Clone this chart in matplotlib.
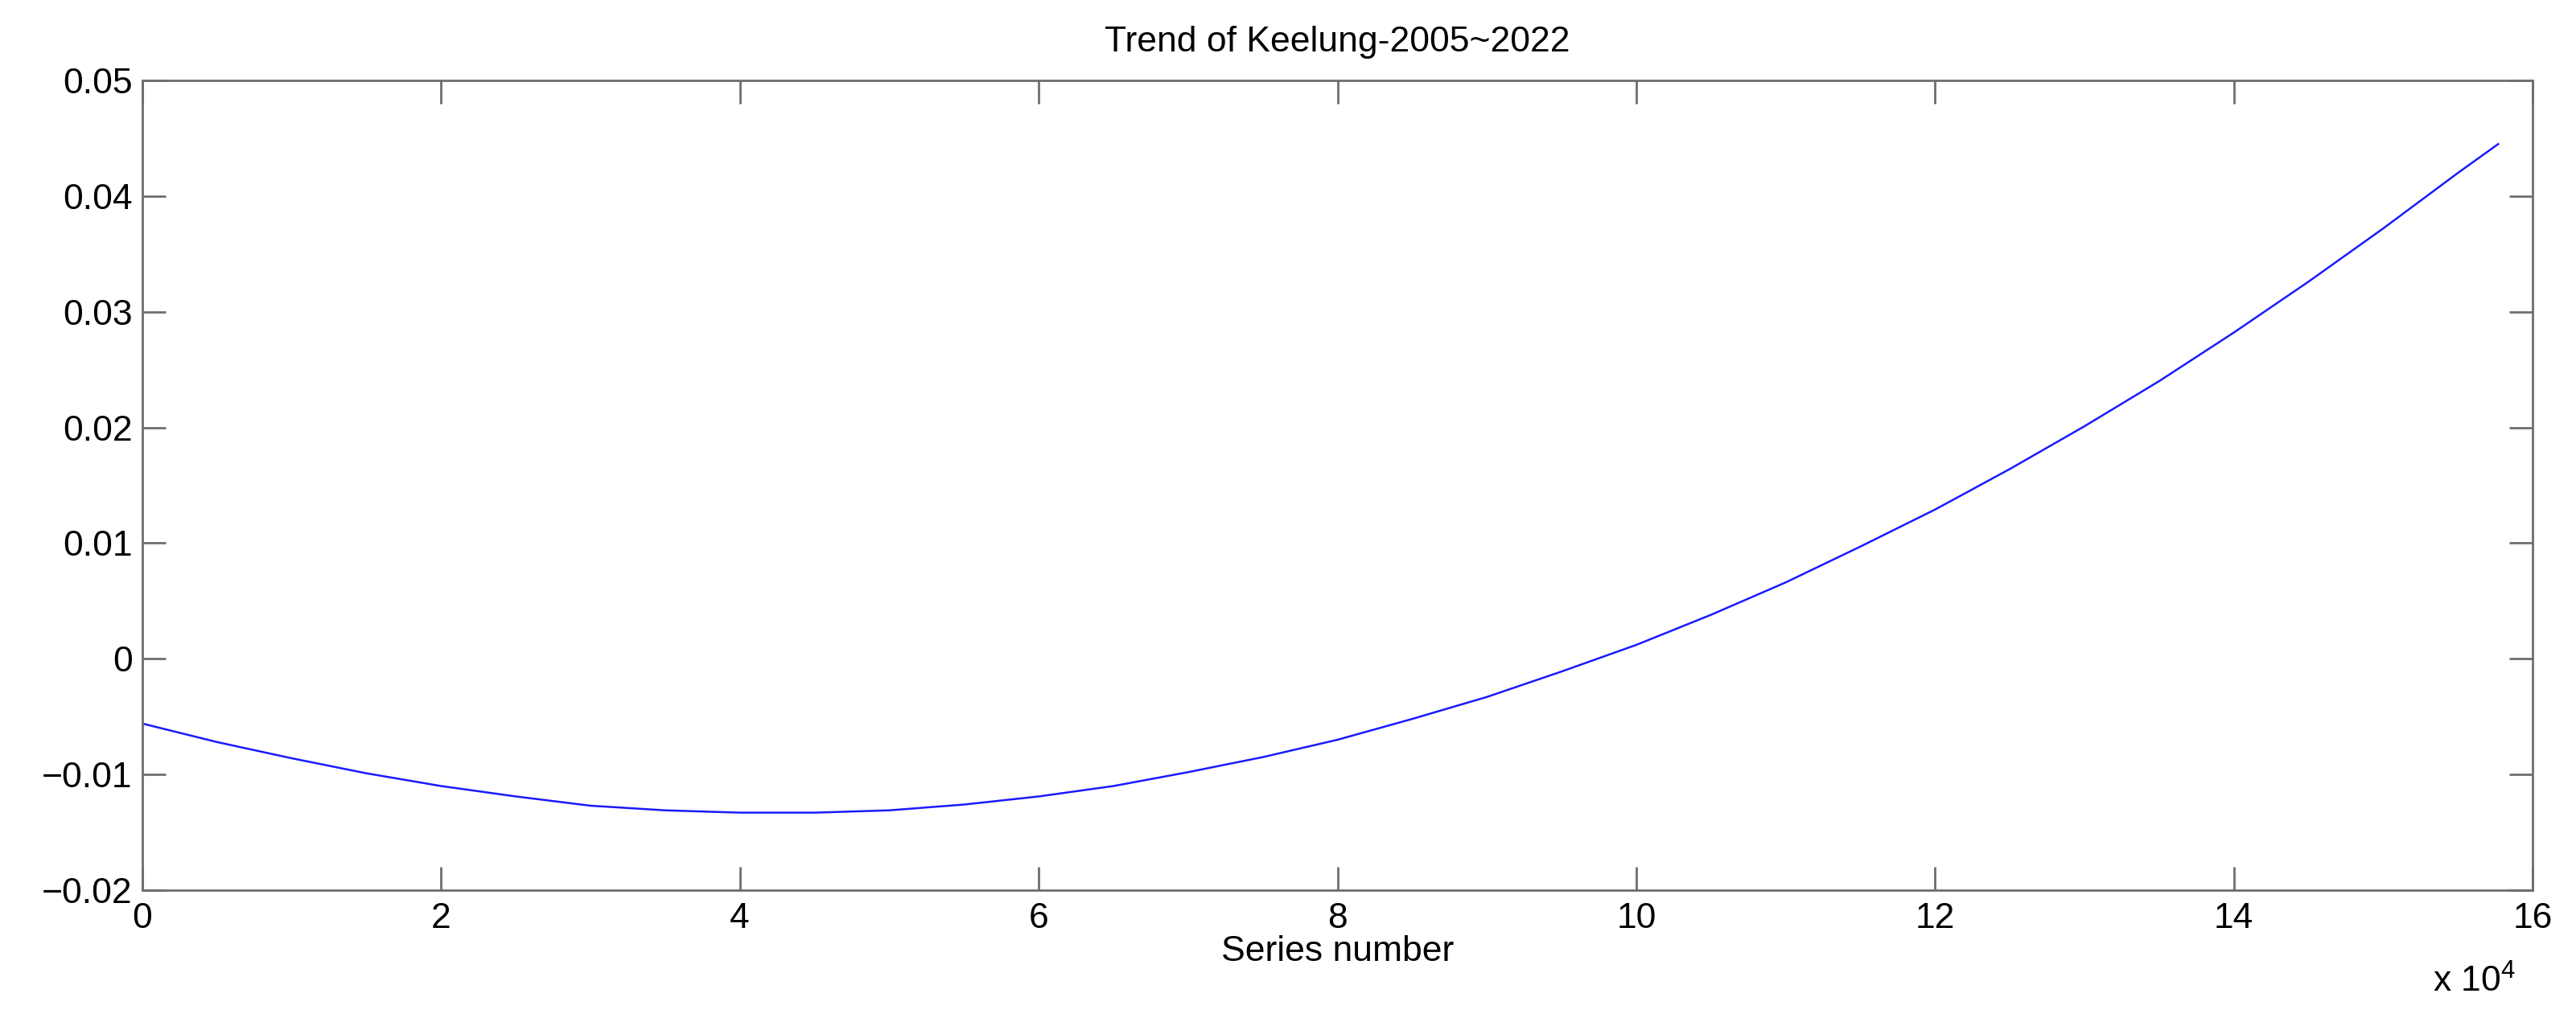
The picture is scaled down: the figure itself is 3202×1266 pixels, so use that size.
import matplotlib
matplotlib.use("Agg")
import matplotlib.pyplot as plt
from matplotlib.ticker import FuncFormatter, MultipleLocator

# valores
series_number = [0, 5000, 10000, 15000, 20000, 25000, 30000, 35000, 40000,
                 45000, 50000, 55000, 60000, 65000, 70000, 75000, 80000,
                 85000, 90000, 95000, 100000, 105000, 110000, 115000, 120000,
                 125000, 130000, 135000, 140000, 145000, 150000, 155000, 157700]
trend = [-0.0056, -0.0072, -0.0086, -0.0099, -0.0110, -0.0119, -0.0127,
         -0.0131, -0.0133, -0.0133, -0.0131, -0.0126, -0.0119, -0.0110,
         -0.0098, -0.0085, -0.0070, -0.0052, -0.0033, -0.0011, 0.0012,
         0.0038, 0.0066, 0.0097, 0.0129, 0.0164, 0.0201, 0.0240, 0.0282,
         0.0326, 0.0372, 0.0420, 0.0445]

title = "Trend of Keelung-2005~2022"
xlabel = "Series number"

plt.rcParams["font.family"] = ["Liberation Sans", "DejaVu Sans"]
plt.rcParams["mathtext.fontset"] = "custom"
plt.rcParams["mathtext.rm"] = "Liberation Sans"

gris = "#6e6e6e"
fs = 32

fig = plt.figure(figsize=(32.02, 12.66), dpi=100)
ax = fig.add_axes([177 / 3202, 1 - 1107 / 1266, (3148 - 177) / 3202, (1107 - 100) / 1266])

# Curva de tendencia
ax.plot(series_number, trend, color="#1a1aff", lw=1.8)

ax.set_xlim(0, 160000)
ax.set_ylim(-0.02, 0.05)
ax.xaxis.set_major_locator(MultipleLocator(20000))
ax.yaxis.set_major_locator(MultipleLocator(0.01))
ax.xaxis.set_major_formatter(FuncFormatter(lambda v, p: "%g" % (v / 1e4)))
ax.yaxis.set_major_formatter(
    FuncFormatter(lambda v, p: "0" if abs(v) < 1e-9 else ("%.2f" % v).replace("-", "\u2212")))

for s in ax.spines.values():
    s.set_color(gris)
    s.set_linewidth(2.0)
ax.tick_params(direction="in", length=21, width=2.0, color=gris,
               top=True, right=True, labelsize=fs, labelcolor="black")
ax.tick_params(axis="x", pad=11)
ax.tick_params(axis="y", pad=9)

ax.set_title(title, fontsize=fs, pad=26)
ax.set_xlabel(xlabel, fontsize=fs, labelpad=0)
# factor de escala del eje x, abajo a la derecha
ax.text(0.993, -0.092, r"x 10$^{\mathregular{4}}$", transform=ax.transAxes,
        ha="right", va="top", fontsize=fs)

fig.savefig("out.png", dpi=100)
